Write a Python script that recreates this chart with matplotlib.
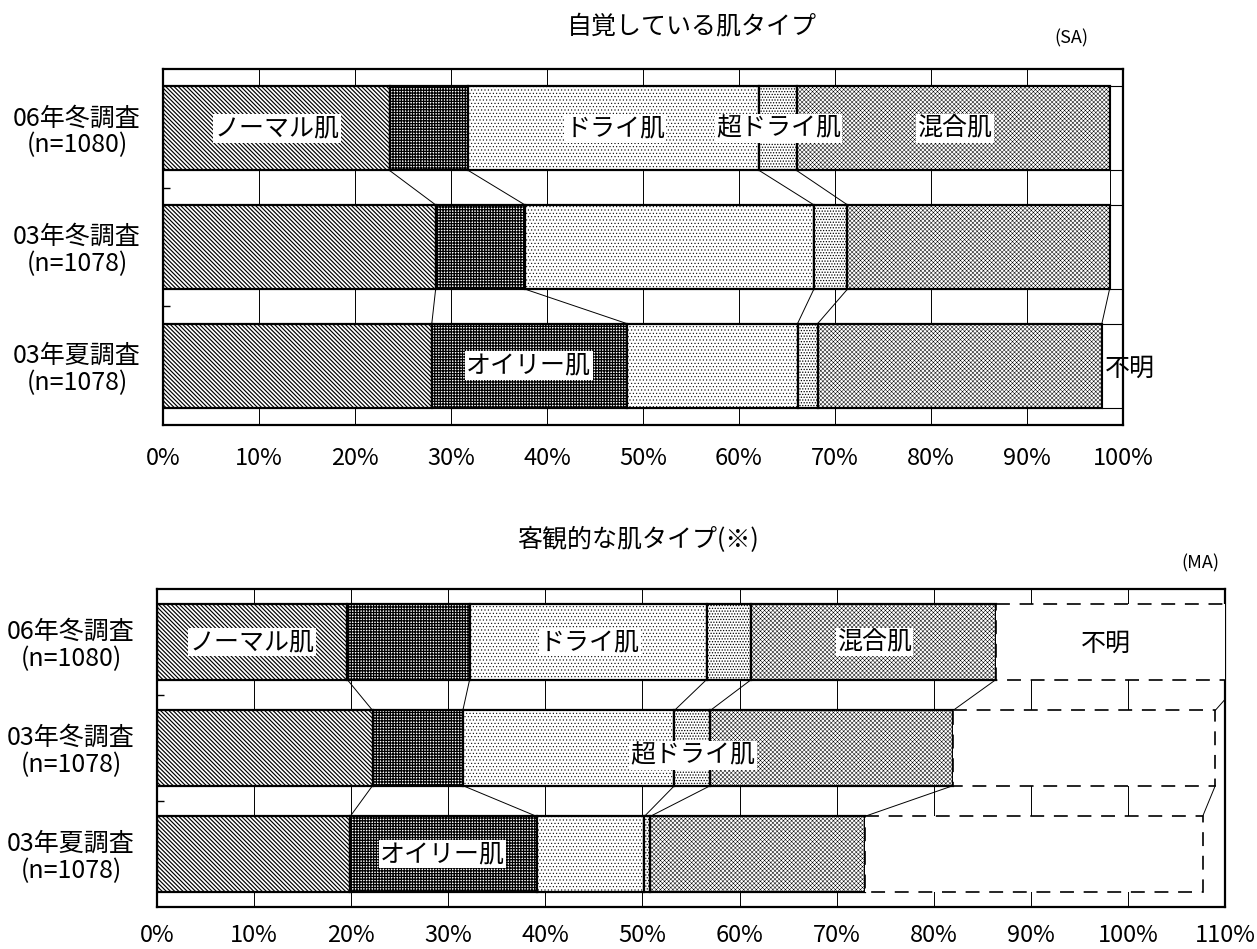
import matplotlib
matplotlib.use('Agg')
import matplotlib.pyplot as plt
import numpy as np

plt.rcParams['font.family'] = ['Noto Sans CJK JP', 'DejaVu Sans']
plt.rcParams['lines.scale_dashes'] = False

surveys = ['06年冬調査\n(n=1080)', '03年冬調査\n(n=1078)', '03年夏調査\n(n=1078)']
skin_types = ['ノーマル肌', 'オイリー肌', 'ドライ肌', '超ドライ肌', '混合肌', '不明']

# 自覚している肌タイプ (SA), %
self_normal = [23.6, 28.4, 28.0]
self_oily = [8.2, 9.3, 20.3]
self_dry = [30.3, 30.1, 17.8]
self_superdry = [3.9, 3.5, 2.1]
self_mixed = [32.6, 27.3, 29.6]
self_unknown = [1.4, 1.4, 2.2]

# 客観的な肌タイプ (MA), %
obj_normal = [19.6, 22.2, 19.9]
obj_oily = [12.6, 9.3, 19.2]
obj_dry = [24.4, 21.8, 11.1]
obj_superdry = [4.6, 3.7, 0.6]
obj_mixed = [25.2, 25.0, 22.1]
obj_unknown = [25.4, 27.0, 34.8]

# hatch pattern and hatch line width per skin type
hatches = {
    'ノーマル肌': ('\\' * 8, 0.85),
    'オイリー肌': ('++++++', 0.9),
    'ドライ肌': ('.....', 0.4),
    '超ドライ肌': ('......', 0.6),
    '混合肌': ('x' * 8, 0.35),
}

BAR_H = 0.71


def draw_panel(ax, series, xmax, dashed_unknown):
    y = np.arange(len(surveys))
    left = np.zeros(len(surveys))
    ends = []
    for name, vals in zip(skin_types, series):
        vals = np.array(vals)
        if name == '不明':
            if dashed_unknown:
                ax.barh(y, vals, left=left, height=BAR_H, color='white',
                        edgecolor='black', linewidth=1.2, linestyle=(0, (10, 7)),
                        zorder=3)
            else:
                ax.barh(y, vals, left=left, height=BAR_H, color='white',
                        edgecolor='black', linewidth=0.8, zorder=2)
        else:
            hatch, hlw = hatches[name]
            plt.rcParams['hatch.linewidth'] = hlw
            ax.barh(y, vals, left=left, height=BAR_H, color='white',
                    edgecolor='black', linewidth=1.6, hatch=hatch, zorder=2)
        left = left + vals
        ends.append(left.copy())

    # series lines between neighbouring bars
    for e in ends:
        for i in range(len(surveys) - 1):
            ax.plot([e[i], e[i + 1]], [i + BAR_H / 2, i + 1 - BAR_H / 2],
                    color='black', lw=0.7, zorder=1.8)

    ax.set_xlim(0, xmax)
    ax.set_ylim(len(surveys) - 0.5, -0.5)
    ticks = np.arange(0, xmax + 1, 10)
    ax.set_xticks(ticks, [f'{t}%' for t in ticks])
    ax.xaxis.grid(True, color='black', lw=0.7)
    ax.set_axisbelow(True)

    ax.set_yticks(y, surveys)
    ax.set_yticks([0.5, 1.5], minor=True)
    ax.tick_params(axis='y', which='major', length=0, pad=62, labelsize=18)
    ax.tick_params(axis='y', which='minor', direction='in', length=5, width=1)
    for lab in ax.get_yticklabels():
        lab.set_horizontalalignment('center')
        lab.set_multialignment('center')
        lab.set_linespacing(1.05)
    for sp in ax.spines.values():
        sp.set_linewidth(1.6)


def seg_label(ax, x, y, text, boxed=True):
    kw = dict(ha='center', va='center', fontsize=18, zorder=6, clip_on=False)
    if boxed:
        kw['bbox'] = dict(boxstyle='square,pad=0.05', fc='white', ec='none')
    ax.text(x, y, text, **kw)


fig = plt.figure(figsize=(12.57, 9.49), dpi=100)

# top panel: self-assessed skin type
ax1 = fig.add_axes([163 / 1257, 1 - 425 / 949, 960 / 1257, 356 / 949])
draw_panel(ax1, [self_normal, self_oily, self_dry, self_superdry, self_mixed,
                 self_unknown], 100, False)
ax1.tick_params(axis='x', length=0, pad=16, labelsize=17)
seg_label(ax1, 11.9, 0, 'ノーマル肌')
seg_label(ax1, 47.1, 0, 'ドライ肌')
seg_label(ax1, 64.1, 0, '超ドライ肌')
seg_label(ax1, 82.5, 0, '混合肌')
seg_label(ax1, 38.1, 2, 'オイリー肌')
seg_label(ax1, 100.7, 2.03, '不明', boxed=False)

# bottom panel: objectively measured skin type
ax2 = fig.add_axes([157 / 1257, 1 - 907 / 949, 1068 / 1257, 318 / 949])
draw_panel(ax2, [obj_normal, obj_oily, obj_dry, obj_superdry, obj_mixed,
                 obj_unknown], 110, True)
ax2.tick_params(axis='x', length=0, pad=12, labelsize=17)
seg_label(ax2, 9.8, 0, 'ノーマル肌')
seg_label(ax2, 44.6, 0, 'ドライ肌')
seg_label(ax2, 73.9, 0, '混合肌')
seg_label(ax2, 97.7, 0.02, '不明', boxed=False)
seg_label(ax2, 55.2, 1.07, '超ドライ肌')
seg_label(ax2, 29.4, 2, 'オイリー肌')

fig.text(692 / 1257, 1 - 26 / 949, '自覚している肌タイプ', ha='center', va='center',
         fontsize=18)
fig.text(1071 / 1257, 1 - 38 / 949, '(SA)', ha='center', va='center', fontsize=13)
fig.text(638 / 1257, 1 - 540 / 949, '客観的な肌タイプ(※)', ha='center', va='center',
         fontsize=18)
fig.text(1200 / 1257, 1 - 563 / 949, '(MA)', ha='center', va='center', fontsize=13)

fig.savefig('out.png', dpi=100)
